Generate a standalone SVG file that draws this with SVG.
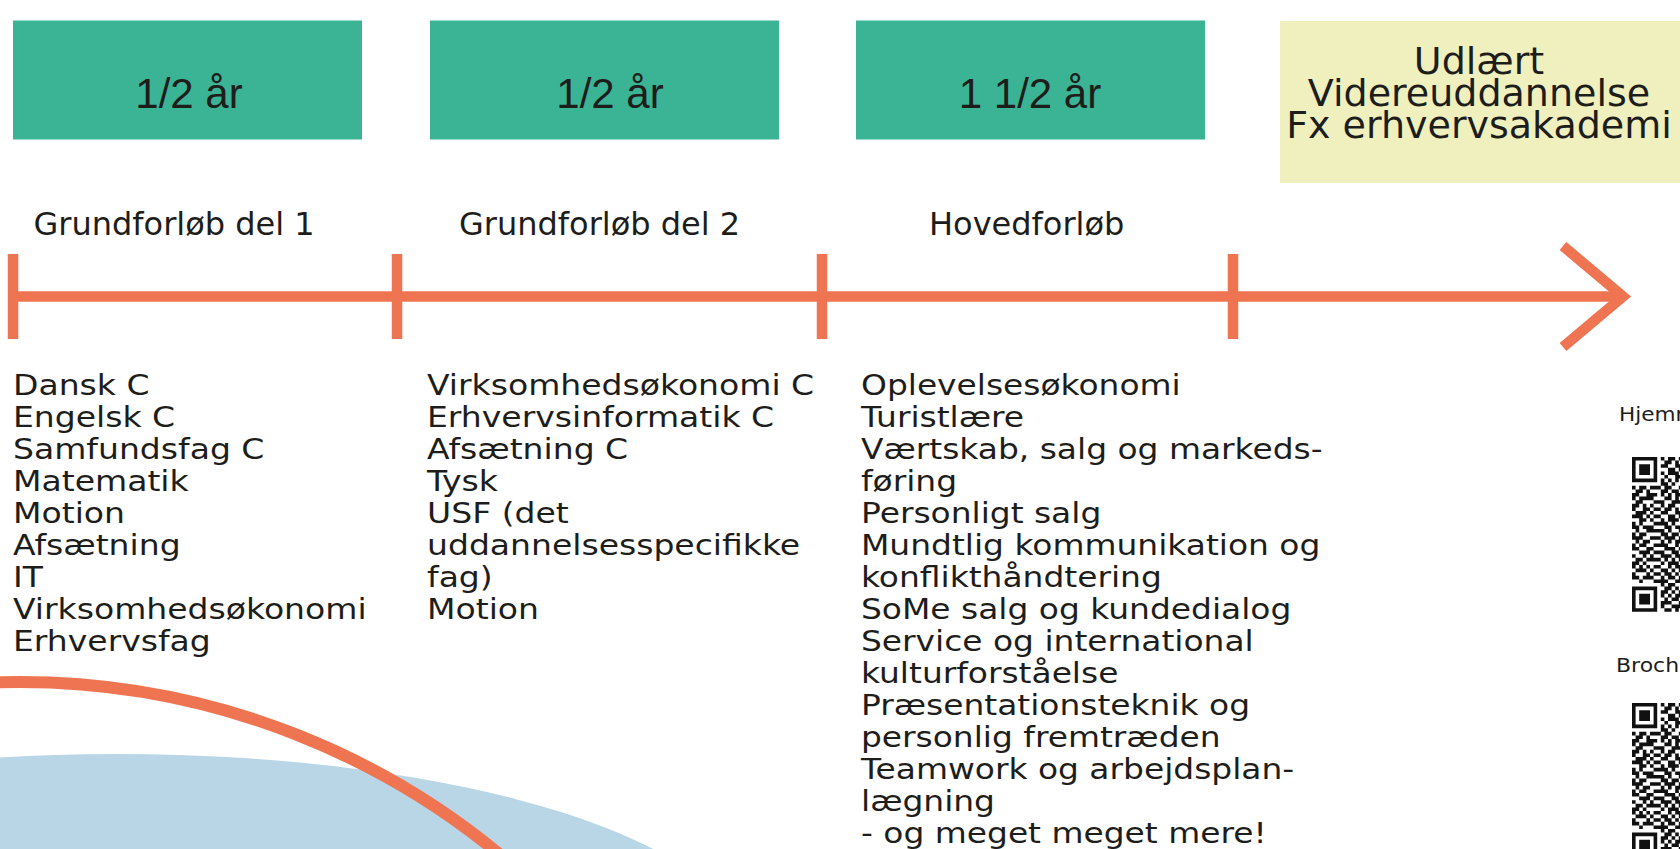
<svg xmlns="http://www.w3.org/2000/svg" width="1680" height="849" viewBox="0 0 1680 849">
  <style>
    .bg{fill:#ffffff}
    .green{fill:#3bb395}
    .yellow{fill:#f0f0be}
    text{fill:#1d1d1b}
    .dur{font-family:"Liberation Sans",Arial,sans-serif;font-size:42px;text-anchor:middle}
    .up{font-family:"DejaVu Sans",sans-serif;font-size:38px;text-anchor:middle}
    .lbl{font-family:"DejaVu Sans",sans-serif;font-size:32px}
    .body{font-family:"DejaVu Sans",sans-serif;font-size:28px}
    .small{font-family:"DejaVu Sans",sans-serif;font-size:20px}
    .tl{stroke:#ef7552;stroke-width:10.5;fill:none}
    .qr{fill:#111111}
  </style>
  <defs>
    <path id="qrdata" d="M0 0h7v1h-7zM8 0h1v1h-1zM10 0h2v1h-2zM13 0h1v1h-1z
M0 1h1v1h-1zM6 1h1v1h-1zM9 1h2v1h-2zM12 1h1v1h-1z
M0 2h1v1h-1zM2 2h3v1h-3zM6 2h1v1h-1zM8 2h2v1h-2zM12 2h2v1h-2z
M0 3h1v1h-1zM2 3h3v1h-3zM6 3h1v1h-1zM10 3h2v1h-2zM13 3h1v1h-1z
M0 4h1v1h-1zM2 4h3v1h-3zM6 4h1v1h-1zM8 4h1v1h-1zM10 4h3v1h-3z
M0 5h1v1h-1zM6 5h1v1h-1zM9 5h1v1h-1zM12 5h2v1h-2z
M0 6h7v1h-7zM8 6h1v1h-1zM10 6h1v1h-1zM12 6h1v1h-1z
M8 7h2v1h-2zM11 7h1v1h-1z
M0 8h1v1h-1zM2 8h2v1h-2zM5 8h3v1h-3zM9 8h2v1h-2zM13 8h1v1h-1z
M1 9h2v1h-2zM4 9h1v1h-1zM8 9h2v1h-2zM11 9h2v1h-2z
M0 10h2v1h-2zM4 10h3v1h-3zM8 10h1v1h-1zM10 10h1v1h-1zM12 10h2v1h-2z
M0 11h1v1h-1zM2 11h4v1h-4zM9 11h2v1h-2zM12 11h1v1h-1z
M1 12h2v1h-2zM6 12h3v1h-3zM11 12h3v1h-3z
M0 13h2v1h-2zM3 13h1v1h-1zM5 13h1v1h-1zM8 13h1v1h-1zM10 13h2v1h-2z
M0 14h1v1h-1zM3 14h2v1h-2zM6 14h2v1h-2zM9 14h2v1h-2zM12 14h1v1h-1z
M1 15h3v1h-3zM5 15h1v1h-1zM8 15h2v1h-2zM12 15h2v1h-2z
M0 16h3v1h-3zM4 16h1v1h-1zM6 16h2v1h-2zM10 16h2v1h-2zM13 16h1v1h-1z
M2 17h2v1h-2zM5 17h1v1h-1zM8 17h1v1h-1zM10 17h3v1h-3z
M0 18h1v1h-1zM2 18h1v1h-1zM6 18h4v1h-4zM11 18h1v1h-1z
M0 19h2v1h-2zM3 19h3v1h-3zM9 19h2v1h-2zM12 19h2v1h-2z
M1 20h1v1h-1zM4 20h5v1h-5zM10 20h1v1h-1zM13 20h1v1h-1z
M0 21h1v1h-1zM2 21h2v1h-2zM8 21h2v1h-2zM11 21h2v1h-2z
M0 22h3v1h-3zM5 22h3v1h-3zM9 22h3v1h-3zM13 22h1v1h-1z
M1 23h1v1h-1zM3 23h2v1h-2zM8 23h1v1h-1zM10 23h1v1h-1zM12 23h2v1h-2z
M0 24h1v1h-1zM2 24h2v1h-2zM6 24h4v1h-4zM12 24h1v1h-1z
M0 25h2v1h-2zM4 25h2v1h-2zM9 25h3v1h-3zM13 25h1v1h-1z
M2 26h3v1h-3zM6 26h3v1h-3zM11 26h2v1h-2z
M0 27h1v1h-1zM3 27h1v1h-1zM5 27h1v1h-1zM8 27h3v1h-3zM12 27h2v1h-2z
M1 28h2v1h-2zM4 28h4v1h-4zM9 28h1v1h-1zM11 28h1v1h-1zM13 28h1v1h-1z
M0 29h2v1h-2zM3 29h1v1h-1zM8 29h1v1h-1zM10 29h3v1h-3z
M0 30h1v1h-1zM2 30h1v1h-1zM4 30h1v1h-1zM6 30h2v1h-2zM10 30h1v1h-1zM12 30h2v1h-2z
M1 31h3v1h-3zM5 31h1v1h-1zM8 31h2v1h-2zM11 31h1v1h-1zM13 31h1v1h-1z
M0 32h1v1h-1zM4 32h1v1h-1zM6 32h2v1h-2zM9 32h2v1h-2zM12 32h1v1h-1z
M0 33h2v1h-2zM3 33h3v1h-3zM8 33h1v1h-1zM10 33h2v1h-2zM13 33h1v1h-1z
M2 34h1v1h-1zM6 34h4v1h-4zM12 34h2v1h-2z
M8 35h1v1h-1zM10 35h2v1h-2z
M0 36h7v1h-7zM9 36h2v1h-2zM12 36h1v1h-1z
M0 37h1v1h-1zM6 37h1v1h-1zM8 37h2v1h-2zM11 37h1v1h-1zM13 37h1v1h-1z
M0 38h1v1h-1zM2 38h3v1h-3zM6 38h1v1h-1zM8 38h1v1h-1zM10 38h1v1h-1zM12 38h2v1h-2z
M0 39h1v1h-1zM2 39h3v1h-3zM6 39h1v1h-1zM9 39h1v1h-1zM11 39h2v1h-2z
M0 40h1v1h-1zM2 40h3v1h-3zM6 40h1v1h-1zM8 40h3v1h-3zM13 40h1v1h-1z
M0 41h1v1h-1zM6 41h1v1h-1zM8 41h1v1h-1zM11 41h3v1h-3z
M0 42h7v1h-7zM9 42h2v1h-2zM12 42h1v1h-1z"/>
  </defs>

  <rect class="bg" x="0" y="0" width="1680" height="849"/>

  <g id="decoration">
    <ellipse cx="117" cy="953" rx="629" ry="199" fill="#b8d6e6"/>
    <circle cx="20" cy="1435" r="753" fill="none" stroke="#ef7552" stroke-width="12"/>
  </g>

  <g id="node-half-year-1">
    <rect class="green" x="13" y="20.5" width="349" height="119"/>
    <text class="dur" x="189" y="108">1/2 år</text>
  </g>
  <g id="node-half-year-2">
    <rect class="green" x="430" y="20.5" width="349" height="119"/>
    <text class="dur" x="610" y="108">1/2 år</text>
  </g>
  <g id="node-one-half-year">
    <rect class="green" x="856" y="20.5" width="349" height="119"/>
    <text class="dur" x="1030" y="108">1 1/2 år</text>
  </g>
  <g id="node-udlaert">
    <rect class="yellow" x="1280" y="21" width="400" height="162"/>
    <text class="up" x="1479" y="74">Udlært<tspan x="1479" dy="32">Videreuddannelse</tspan><tspan x="1479" dy="32">Fx erhvervsakademi</tspan></text>
  </g>

  <g id="connectors">
    <line class="tl" x1="8" y1="296.5" x2="1622" y2="296.5"/>
    <line class="tl" x1="13" y1="254" x2="13" y2="339"/>
    <line class="tl" x1="397" y1="254" x2="397" y2="339"/>
    <line class="tl" x1="822" y1="254" x2="822" y2="339"/>
    <line class="tl" x1="1233" y1="254" x2="1233" y2="339"/>
    <polyline class="tl" points="1563,246 1623,296.5 1563,347" stroke-linejoin="miter"/>
  </g>

  <g id="label-grundforloeb-1"><text class="lbl" x="33.5" y="235">Grundforløb del 1</text></g>
  <g id="label-grundforloeb-2"><text class="lbl" x="459" y="235">Grundforløb del 2</text></g>
  <g id="label-hovedforloeb"><text class="lbl" x="929" y="235">Hovedforløb</text></g>

  <g id="list-grundforloeb-1" transform="translate(13,0) scale(1.18,1)">
    <text class="body" x="0" y="395">Dansk C</text>
    <text class="body" x="0" y="427">Engelsk C</text>
    <text class="body" x="0" y="459">Samfundsfag C</text>
    <text class="body" x="0" y="491">Matematik</text>
    <text class="body" x="0" y="523">Motion</text>
    <text class="body" x="0" y="555">Afsætning</text>
    <text class="body" x="0" y="587">IT</text>
    <text class="body" x="0" y="619">Virksomhedsøkonomi</text>
    <text class="body" x="0" y="651">Erhvervsfag</text>
  </g>

  <g id="list-grundforloeb-2" transform="translate(427,0) scale(1.18,1)">
    <text class="body" x="0" y="395">Virksomhedsøkonomi C</text>
    <text class="body" x="0" y="427">Erhvervsinformatik C</text>
    <text class="body" x="0" y="459">Afsætning C</text>
    <text class="body" x="0" y="491">Tysk</text>
    <text class="body" x="0" y="523">USF (det</text>
    <text class="body" x="0" y="555">uddannelsesspecifikke</text>
    <text class="body" x="0" y="587">fag)</text>
    <text class="body" x="0" y="619">Motion</text>
  </g>

  <g id="list-hovedforloeb" transform="translate(861,0) scale(1.175,1)">
    <text class="body" x="0" y="395">Oplevelsesøkonomi</text>
    <text class="body" x="0" y="427">Turistlære</text>
    <text class="body" x="0" y="459">Værtskab, salg og markeds-</text>
    <text class="body" x="0" y="491">føring</text>
    <text class="body" x="0" y="523">Personligt salg</text>
    <text class="body" x="0" y="555">Mundtlig kommunikation og</text>
    <text class="body" x="0" y="587">konflikthåndtering</text>
    <text class="body" x="0" y="619">SoMe salg og kundedialog</text>
    <text class="body" x="0" y="651">Service og international</text>
    <text class="body" x="0" y="683">kulturforståelse</text>
    <text class="body" x="0" y="715">Præsentationsteknik og</text>
    <text class="body" x="0" y="747">personlig fremtræden</text>
    <text class="body" x="0" y="779">Teamwork og arbejdsplan-</text>
    <text class="body" x="0" y="811">lægning</text>
    <text class="body" x="0" y="843">- og meget meget mere!</text>
  </g>

  <g id="qr-hjemmeside">
    <text class="small" x="1619" y="421" transform="translate(1619,0) scale(1.08,1) translate(-1619,0)">Hjemmeside</text>
    <use href="#qrdata" class="qr" transform="translate(1632,457) scale(3.6)"/>
  </g>
  <g id="qr-brochure">
    <text class="small" x="1616" y="672" transform="translate(1616,0) scale(1.1,1) translate(-1616,0)">Brochure</text>
    <use href="#qrdata" class="qr" transform="translate(1632,703) scale(3.6)"/>
  </g>
</svg>
